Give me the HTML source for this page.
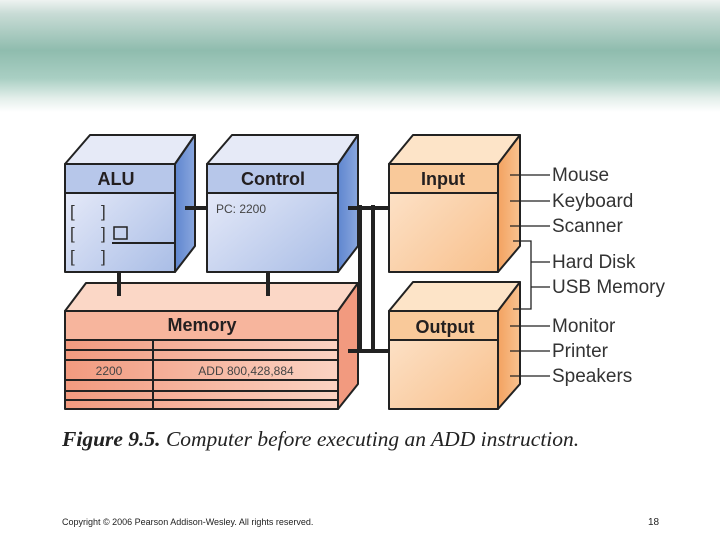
<!DOCTYPE html>
<html><head><meta charset="utf-8"><style>
body{margin:0;width:720px;height:540px;overflow:hidden;background:#fff;font-family:"Liberation Sans",sans-serif}
</style></head><body>
<svg width="720" height="540" xmlns="http://www.w3.org/2000/svg" style="position:absolute;left:0;top:0">
<defs>
<linearGradient id="sky" x1="0" y1="0" x2="0" y2="1">
<stop offset="0" stop-color="#eef3f1"/><stop offset="0.12" stop-color="#c9dcd6"/><stop offset="0.45" stop-color="#8fbcae"/><stop offset="0.7" stop-color="#a9cfc3"/><stop offset="0.88" stop-color="#e4efeb"/><stop offset="1" stop-color="#ffffff"/>
</linearGradient>
<linearGradient id="bf" x1="0" y1="0" x2="1" y2="1"><stop offset="0" stop-color="#eef0fb"/><stop offset="1" stop-color="#a9bde6"/></linearGradient>
<linearGradient id="bs" x1="0" y1="0" x2="1" y2="0"><stop offset="0" stop-color="#5f86cf"/><stop offset="1" stop-color="#8aa7de"/></linearGradient>
<linearGradient id="of" x1="0" y1="0" x2="1" y2="1"><stop offset="0" stop-color="#fde6cf"/><stop offset="1" stop-color="#f8c08c"/></linearGradient>
<linearGradient id="os" x1="0" y1="0" x2="1" y2="0"><stop offset="0" stop-color="#f3a260"/><stop offset="1" stop-color="#f8c290"/></linearGradient>
<linearGradient id="mf" x1="0" y1="0" x2="1" y2="0"><stop offset="0" stop-color="#f29a7f"/><stop offset="1" stop-color="#fbd3c3"/></linearGradient>
</defs>
<rect x="0" y="0" width="720" height="112" fill="url(#sky)"/>
<g stroke="#222" stroke-width="2" stroke-linejoin="round">
<polygon points="65,164 90,135 195,135 175,164" fill="#e6eaf7"/>
<polygon points="175,164 195,135 195,246 175,272" fill="url(#bs)"/>
<rect x="65" y="164" width="110" height="108" fill="url(#bf)"/>
<rect x="65" y="164" width="110" height="29" fill="#b7c7ea"/>
<polygon points="207,164 232,135 358,135 338,164" fill="#e6eaf7"/>
<polygon points="338,164 358,135 358,246 338,272" fill="url(#bs)"/>
<rect x="207" y="164" width="131" height="108" fill="url(#bf)"/>
<rect x="207" y="164" width="131" height="29" fill="#b7c7ea"/>
<polygon points="389,164 413,135 520,135 498,164" fill="#fde4c8"/>
<polygon points="498,164 520,135 520,246 498,272" fill="url(#os)"/>
<rect x="389" y="164" width="109" height="108" fill="url(#of)"/>
<rect x="389" y="164" width="109" height="29" fill="#f9c99a"/>
<polygon points="389,311 413,282 520,282 498,311" fill="#fde4c8"/>
<polygon points="498,311 520,282 520,384 498,409" fill="url(#os)"/>
<rect x="389" y="311" width="109" height="98" fill="url(#of)"/>
<rect x="389" y="311" width="109" height="29" fill="#f9c99a"/>
<polygon points="65,311 86,283 358,283 338,311" fill="#fbd7c6"/>
<polygon points="338,311 358,283 358,384 338,409" fill="#f29a7f"/>
<rect x="65" y="311" width="273" height="98" fill="url(#mf)"/>
<rect x="65" y="311" width="273" height="29" fill="#f7b59d"/>
</g>
<g stroke="#222" stroke-width="2">
<line x1="65" y1="350" x2="338" y2="350"/><line x1="65" y1="360" x2="338" y2="360"/>
<line x1="65" y1="380" x2="338" y2="380"/><line x1="65" y1="391" x2="338" y2="391"/><line x1="65" y1="400" x2="338" y2="400"/>
<line x1="153" y1="340" x2="153" y2="409"/>
<line x1="112" y1="243" x2="175" y2="243"/>
</g>
<rect x="114" y="227" width="13" height="12" fill="none" stroke="#222" stroke-width="1.5"/>
<g stroke="#222" stroke-width="4">
<line x1="185" y1="208" x2="207" y2="208"/>
<line x1="348" y1="208" x2="389" y2="208"/>
<line x1="360" y1="205" x2="360" y2="352"/>
<line x1="373" y1="205" x2="373" y2="352"/>
<line x1="348" y1="351" x2="389" y2="351"/>
<line x1="119" y1="272" x2="119" y2="296"/>
<line x1="268" y1="272" x2="268" y2="296"/>
</g>
<g stroke="#222" stroke-width="1.3" fill="none">
<line x1="510" y1="175" x2="550" y2="175"/><line x1="510" y1="201" x2="550" y2="201"/><line x1="510" y1="226" x2="550" y2="226"/>
<polyline points="513,241 531,241 531,309 513,309"/>
<line x1="531" y1="262" x2="550" y2="262"/><line x1="531" y1="287" x2="550" y2="287"/>
<line x1="510" y1="326" x2="550" y2="326"/><line x1="510" y1="351" x2="550" y2="351"/><line x1="510" y1="376" x2="550" y2="376"/>
</g>
<g font-family="Liberation Sans,sans-serif" font-weight="bold" font-size="18" fill="#231f20" text-anchor="middle">
<text x="116" y="185">ALU</text><text x="273" y="185">Control</text>
<text x="443" y="185">Input</text><text x="445" y="333">Output</text><text x="202" y="331">Memory</text>
</g>
<g font-family="Liberation Sans,sans-serif" font-size="17" fill="#333">
<text x="70" y="217">[</text><text x="101" y="217">]</text>
<text x="70" y="239">[</text><text x="101" y="239">]</text>
<text x="70" y="262">[</text><text x="101" y="262">]</text>
</g>
<g font-family="Liberation Sans,sans-serif" font-size="12" fill="#444">
<text x="216" y="213">PC: 2200</text>
<text x="109" y="375" text-anchor="middle">2200</text>
<text x="246" y="375" text-anchor="middle">ADD 800,428,884</text>
</g>
<g font-family="Liberation Sans,sans-serif" font-size="19" fill="#333">
<text x="552" y="181">Mouse</text><text x="552" y="207">Keyboard</text><text x="552" y="232">Scanner</text>
<text x="552" y="268">Hard Disk</text><text x="552" y="293">USB Memory</text>
<text x="552" y="332">Monitor</text><text x="552" y="357">Printer</text><text x="552" y="382">Speakers</text>
</g>
<text x="62" y="446" font-family="Liberation Serif,serif" font-size="21.5" fill="#222"><tspan font-weight="bold" font-style="italic">Figure 9.5.</tspan><tspan font-style="italic"> Computer before executing an ADD instruction.</tspan></text>
<text x="62" y="525" font-family="Liberation Sans,sans-serif" font-size="9" fill="#222">Copyright © 2006 Pearson Addison-Wesley. All rights reserved.</text>
<text x="648" y="525" font-family="Liberation Sans,sans-serif" font-size="10" fill="#222">18</text>
</svg>
</body></html>
